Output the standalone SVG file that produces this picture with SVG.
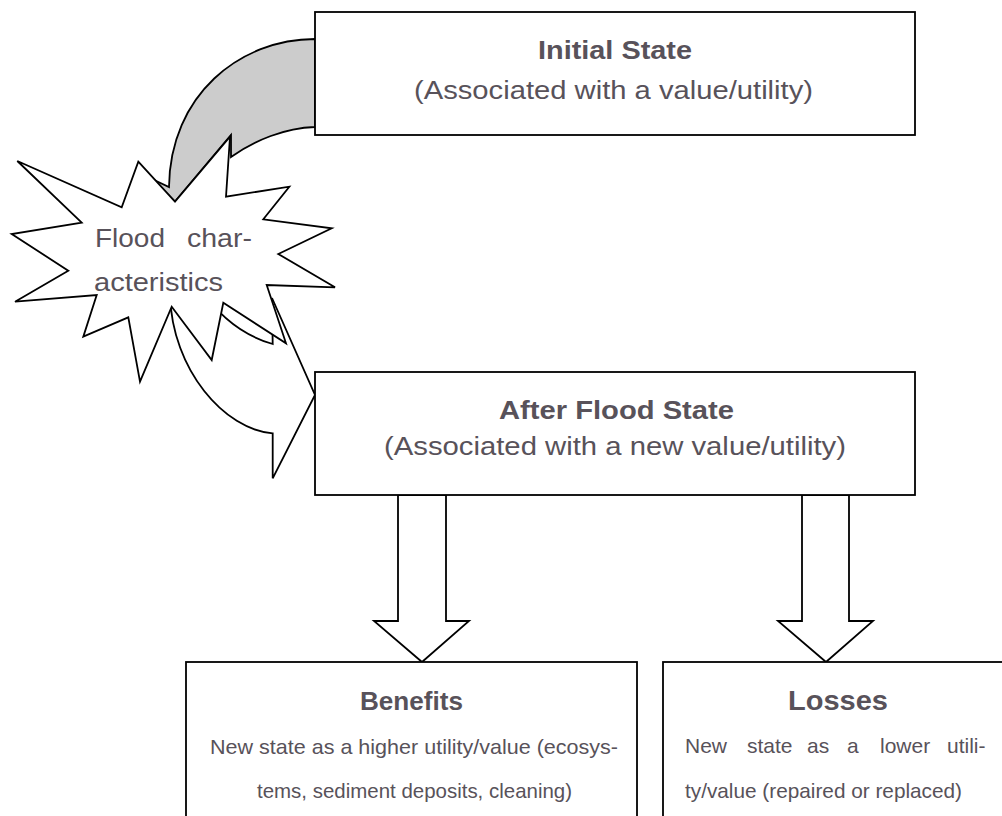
<svg xmlns="http://www.w3.org/2000/svg" width="1002" height="816" viewBox="0 0 1002 816">
<style>
.box{fill:#fff;stroke:#000;stroke-width:1.8}
.arr{fill:#fff;stroke:#000;stroke-width:1.8;stroke-linejoin:miter}
.t{font-family:"Liberation Sans",Arial,sans-serif;fill:#58525a}
.b{font-weight:bold}
</style>
<rect width="1002" height="816" fill="#fff"/>
<g id="connectors">
<path id="gray-arrow" d="M315,39 C240,39 170,95 169,187 L152,179 L175,201.7 L231,135 L231,157 C255,140 285,128 315,127 Z" fill="#cccccc" stroke="#000" stroke-width="1.8"/>
<path id="white-arrow" class="arr" d="M170,295 C172,370 225,430 272.7,433.3 L272.7,478.3 L315,395 L272,298 L272.7,344 C245,336 220,318 200,288 Z"/>
<polygon id="arrow-left" class="arr" points="398,495 446,495 446,621 469,621 422,662 374,621 398,621"/>
<polygon id="arrow-right" class="arr" points="802,495 849,495 849,621 873,621 826,662 778,621 802,621"/>
</g>
<g id="flood">
<polygon class="arr" points="138.3,161.7 175,201.7 230,136.7 226,196.7 289.3,186.7 263.3,219.3 331.7,228.3 278.3,254 335,287.3 266.7,285 286,343.3 223.3,302.7 211.7,360 171.7,306.7 140,381.7 128.3,317.3 83.3,336.7 96.7,295 15,301.7 68.3,270.7 11.7,234 81.7,222.7 17.3,161 121.7,207.3"/>
<text class="t" font-size="26"><tspan x="95" y="246.7" textLength="70" lengthAdjust="spacingAndGlyphs">Flood</tspan><tspan x="187" y="246.7" textLength="65" lengthAdjust="spacingAndGlyphs">char-</tspan></text>
<text class="t" font-size="26" x="94" y="290.7" textLength="129" lengthAdjust="spacingAndGlyphs">acteristics</text>
</g>
<g id="initial">
<rect class="box" x="315" y="12" width="600" height="123"/>
<text class="t b" font-size="26" x="538" y="59" textLength="154" lengthAdjust="spacingAndGlyphs">Initial State</text>
<text class="t" font-size="26" x="414" y="99" textLength="399" lengthAdjust="spacingAndGlyphs">(Associated with a value/utility)</text>
</g>
<g id="after">
<rect class="box" x="315" y="372" width="600" height="123"/>
<text class="t b" font-size="26" x="499" y="419" textLength="235" lengthAdjust="spacingAndGlyphs">After Flood State</text>
<text class="t" font-size="26" x="384" y="455" textLength="462" lengthAdjust="spacingAndGlyphs">(Associated with a new value/utility)</text>
</g>
<g id="benefits">
<rect class="box" x="186" y="662" width="451" height="170"/>
<text class="t b" font-size="25" x="360" y="710" textLength="103" lengthAdjust="spacingAndGlyphs">Benefits</text>
<text class="t" font-size="21" x="210" y="754" textLength="408" lengthAdjust="spacingAndGlyphs">New state as a higher utility/value (ecosys-</text>
<text class="t" font-size="21" x="257" y="798" textLength="315" lengthAdjust="spacingAndGlyphs">tems, sediment deposits, cleaning)</text>
</g>
<g id="losses">
<rect class="box" x="663" y="662" width="360" height="170"/>
<text class="t b" font-size="27" x="788" y="710" textLength="100" lengthAdjust="spacingAndGlyphs">Losses</text>
<text class="t" font-size="21" y="753"><tspan x="685">New</tspan><tspan x="747">state</tspan><tspan x="807">as</tspan><tspan x="847">a</tspan><tspan x="880">lower</tspan><tspan x="947">utili-</tspan></text>
<text class="t" font-size="21" x="685" y="798" textLength="277" lengthAdjust="spacingAndGlyphs">ty/value (repaired or replaced)</text>
</g>
</svg>
